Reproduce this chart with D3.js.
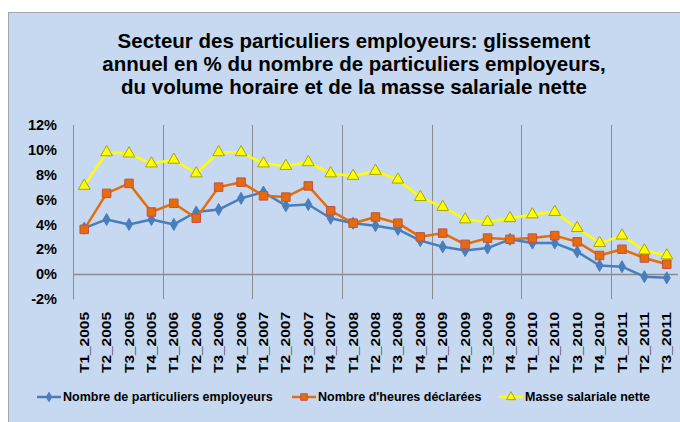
<!DOCTYPE html>
<html>
<head>
<meta charset="utf-8">
<script src="https://cdn.jsdelivr.net/npm/d3@7"></script>
<style>
	body { margin: 0; background: #ffffff; }
	text { font-family: "Liberation Sans", Arial, sans-serif; font-weight: bold; fill: #000000; }
</style>
</head>
<body>
<script>
//quarters on the category axis
var quarters = ["T1_2005","T2_2005","T3_2005","T4_2005",
	"T1_2006","T2_2006","T3_2006","T4_2006",
	"T1_2007","T2_2007","T3_2007","T4_2007",
	"T1_2008","T2_2008","T3_2008","T4_2008",
	"T1_2009","T2_2009","T3_2009","T4_2009",
	"T1_2010","T2_2010","T3_2010","T4_2010",
	"T1_2011","T2_2011","T3_2011"];

//annual change in %
var employeurs = [3.7, 4.4, 4.0, 4.4, 4.0, 5.0, 5.2, 6.1, 6.6, 5.5, 5.6, 4.5, 4.1,
	3.9, 3.6, 2.7, 2.2, 1.9, 2.1, 2.8, 2.5, 2.5, 1.8, 0.7, 0.6, -0.2, -0.3];
var heures = [3.6, 6.5, 7.3, 5.0, 5.7, 4.5, 7.0, 7.4, 6.3, 6.2, 7.1, 5.1, 4.1,
	4.6, 4.1, 3.0, 3.3, 2.4, 2.9, 2.8, 2.9, 3.1, 2.6, 1.5, 2.0, 1.3, 0.8];
var masse = [7.1, 9.8, 9.7, 8.9, 9.2, 8.1, 9.8, 9.8, 8.9, 8.7, 9.0, 8.1, 7.9,
	8.3, 7.6, 6.2, 5.4, 4.4, 4.2, 4.5, 4.8, 5.0, 3.7, 2.5, 3.1, 1.9, 1.5];

//y axis tick values
var yTicks = [-2, 0, 2, 4, 6, 8, 10, 12];

var seriesNames = ["Nombre de particuliers employeurs", "Nombre d'heures déclarées", "Masse salariale nette"];

window.onload = drawChart();

function drawChart(){

	var width = 680,
		height = 422;

	var svg = d3.select("body")
		.append("svg")
		.attr("width", width)
		.attr("height", height);

	//light blue chart area
	svg.append("rect")
		.attr("x", 8.5)
		.attr("y", 12.5)
		.attr("width", 690)
		.attr("height", 430)
		.attr("fill", "#c6d9f1")
		.attr("stroke", "#a6a6a6")
		.attr("stroke-width", 1);

	//title, three lines
	var titleLines = ["Secteur des particuliers employeurs: glissement",
		"annuel en % du nombre de particuliers employeurs,",
		"du volume horaire et de la masse salariale nette"];
	svg.selectAll(".title")
		.data(titleLines)
		.enter()
		.append("text")
		.attr("class", "title")
		.attr("x", 354)
		.attr("y", function(d, i){ return 48 + i * 23; })
		.attr("text-anchor", "middle")
		.style("font-size", "20.5px")
		.text(function(d){ return d; });

	//scales
	var x = d3.scaleBand()
		.domain(quarters)
		.range([73, 678]);

	var y = d3.scaleLinear()
		.domain([-2, 12])
		.range([299, 125]);

	var cx = function(d, i){ return x(quarters[i]) + x.bandwidth() / 2; };

	//vertical gridlines every 4 quarters
	var gridQuarters = quarters.filter(function(d, i){ return i % 4 == 0; });
	svg.selectAll(".grid")
		.data(gridQuarters)
		.enter()
		.append("line")
		.attr("class", "grid")
		.attr("x1", function(d){ return Math.round(x(d)) + 0.5; })
		.attr("x2", function(d){ return Math.round(x(d)) + 0.5; })
		.attr("y1", y(12))
		.attr("y2", y(-2))
		.attr("stroke", "#8c8c8c")
		.attr("stroke-width", 1);

	//y axis
	var yAxis = svg.append("g")
		.attr("transform", "translate(73,0)")
		.call(d3.axisLeft(y)
			.tickValues(yTicks)
			.tickSize(0)
			.tickPadding(16)
			.tickFormat(function(d){ return d + "%"; }));
	yAxis.select(".domain").attr("stroke", "#8c8c8c");
	yAxis.selectAll("text")
		.style("font-size", "14.5px")
		.style("font-family", "'Liberation Sans', Arial, sans-serif");

	//zero line (category axis)
	svg.append("line")
		.attr("x1", 73)
		.attr("x2", 678)
		.attr("y1", Math.round(y(0)) + 0.5)
		.attr("y2", Math.round(y(0)) + 0.5)
		.attr("stroke", "#8c8c8c")
		.attr("stroke-width", 1.5);

	//x labels, rotated
	var xAxis = svg.append("g")
		.attr("transform", "translate(0,299)")
		.call(d3.axisBottom(x).tickSize(0).tickPadding(0));
	xAxis.select(".domain").remove();
	xAxis.selectAll("text")
		.attr("transform", "rotate(-90)")
		.attr("x", -13)
		.attr("y", 0)
		.attr("dy", "0.35em")
		.attr("text-anchor", "end")
		.attr("textLength", 61)
		.attr("lengthAdjust", "spacingAndGlyphs")
		.style("font-size", "13px")
		.style("font-family", "'Liberation Sans', Arial, sans-serif");

	//series lines
	var line = d3.line()
		.x(cx)
		.y(function(d){ return y(d); });

	var series = [
		{ values: employeurs, color: "#4a7ebb", symbol: d3.symbolDiamond, size: 42, fill: "#4a7ebb", stroke: "#4a7ebb" },
		{ values: heures, color: "#e46c0a", symbol: d3.symbolSquare, size: 72, fill: "#e46c0a", stroke: "#c0504d" },
		{ values: masse, color: "#ffff00", symbol: d3.symbolTriangle, size: 60, fill: "#ffff00", stroke: "#a6a600" }
	];

	series.forEach(function(s){
		svg.append("path")
			.datum(s.values)
			.attr("fill", "none")
			.attr("stroke", s.color)
			.attr("stroke-width", 2.5)
			.attr("stroke-linejoin", "round")
			.attr("d", line);

		svg.selectAll(null)
			.data(s.values)
			.enter()
			.append("path")
			.attr("transform", function(d, i){ return "translate(" + cx(d, i) + "," + y(d) + ")"; })
			.attr("d", d3.symbol().type(s.symbol).size(s.size))
			.attr("fill", s.fill)
			.attr("stroke", s.stroke)
			.attr("stroke-width", 1);
	});

	//legend
	var legendX = [37, 292, 499];
	var legend = svg.selectAll(".legend")
		.data(series)
		.enter()
		.append("g")
		.attr("class", "legend")
		.attr("transform", function(d, i){ return "translate(" + legendX[i] + ",397)"; });
	legend.append("line")
		.attr("x1", 0)
		.attr("x2", 24)
		.attr("stroke", function(d){ return d.color; })
		.attr("stroke-width", 2.5);
	legend.append("path")
		.attr("transform", "translate(12,0)")
		.attr("d", function(d){ return d3.symbol().type(d.symbol).size(d.size * 0.6)(); })
		.attr("fill", function(d){ return d.fill; })
		.attr("stroke", function(d){ return d.stroke; })
		.attr("stroke-width", 1);
	legend.append("text")
		.attr("x", 26)
		.attr("dy", "0.35em")
		.style("font-size", "12.5px")
		.text(function(d, i){ return seriesNames[i]; });
};
</script>
</body>
</html>
